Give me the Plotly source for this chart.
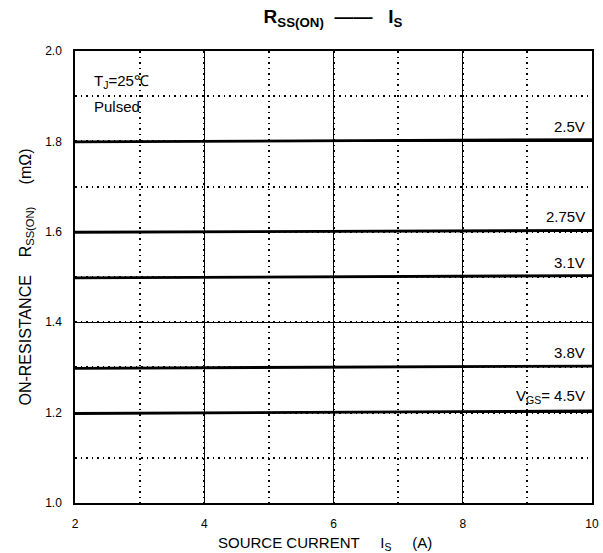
import plotly.graph_objects as go

current = [2, 4, 6, 8, 10]
r_25 = [1.799, 1.800, 1.801, 1.803, 1.804]
r_275 = [1.599, 1.600, 1.601, 1.602, 1.603]
r_31 = [1.498, 1.499, 1.500, 1.502, 1.503]
r_38 = [1.298, 1.299, 1.300, 1.302, 1.303]
r_45 = [1.198, 1.199, 1.200, 1.202, 1.204]
series = [r_25, r_275, r_31, r_38, r_45]
labels = ["2.5V", "2.75V", "3.1V", "3.8V", "V<sub>GS</sub>= 4.5V"]
x_ticks = [2, 4, 6, 8, 10]
y_ticks = [1.0, 1.2, 1.4, 1.6, 1.8, 2.0]

FONT = "Liberation Sans, Arial, sans-serif"

fig = go.Figure()
for ys, lab in zip(series, labels):
    fig.add_trace(go.Scatter(x=current, y=ys, mode="lines",
                             line=dict(color="black", width=2.8),
                             showlegend=False, hoverinfo="skip"))
    fig.add_annotation(x=current[-1], y=ys[-1], text=lab, showarrow=False,
                       xanchor="right", yanchor="bottom", xshift=-5, yshift=3,
                       font=dict(family=FONT, size=15, color="black"))

fig.add_annotation(x=2.27, y=1.933, text="T<sub>J</sub>=25\u2103", showarrow=False,
                   xanchor="left", yanchor="middle",
                   font=dict(family=FONT, size=15, color="black"))
fig.add_annotation(x=2.27, y=1.878, text="Pulsed", showarrow=False,
                   xanchor="left", yanchor="middle",
                   font=dict(family=FONT, size=15, color="black"))

axis_common = dict(showline=True, linecolor="black", linewidth=1.5, mirror=True,
                   showgrid=True, gridcolor="black", gridwidth=1, zeroline=False,
                   ticks="outside", ticklen=9, tickcolor="rgba(0,0,0,0)",
                   tickfont=dict(family=FONT, size=12, color="black"))

fig.update_xaxes(range=[2, 10], tickvals=x_ticks, ticktext=[str(v) for v in x_ticks],
                 minor=dict(dtick=1, tick0=2, showgrid=True, gridcolor="black",
                            griddash="1.5px,4px", gridwidth=1.5),
                 title=dict(text="SOURCE CURRENT &nbsp;&nbsp;&nbsp;&nbsp;I<sub>S</sub> &nbsp;&nbsp;&nbsp;&nbsp;(A)&nbsp;&nbsp;&nbsp;&nbsp;",
                            font=dict(family=FONT, size=15, color="black"), standoff=7),
                 **axis_common)
fig.update_yaxes(range=[1.0, 2.0], tickvals=y_ticks, ticktext=[f"{v:.1f}" for v in y_ticks],
                 minor=dict(dtick=0.1, tick0=1.0, showgrid=True, gridcolor="black",
                            griddash="1.5px,4px", gridwidth=1.5),
                 title=dict(text="ON-RESISTANCE &nbsp;&nbsp;&nbsp;R<sub>SS(ON)</sub> &nbsp;&nbsp;&nbsp;&nbsp;(m\u03a9)",
                            font=dict(family=FONT, size=16, color="black"), standoff=10),
                 **axis_common)

fig.update_layout(
    width=611, height=561,
    margin=dict(l=75, r=12, t=51, b=54),
    paper_bgcolor="white", plot_bgcolor="white",
    title=dict(text="<b>R<sub>SS(ON)</sub> &nbsp;\u2014\u2014 &nbsp;&nbsp;I<sub>S</sub></b>",
               x=0.545, xanchor="center", y=0.971, yanchor="middle",
               font=dict(family=FONT, size=19, color="black")),
)

fig.write_html("out.html", config={"displayModeBar": False},
               post_script="document.body.style.margin='0px';")
